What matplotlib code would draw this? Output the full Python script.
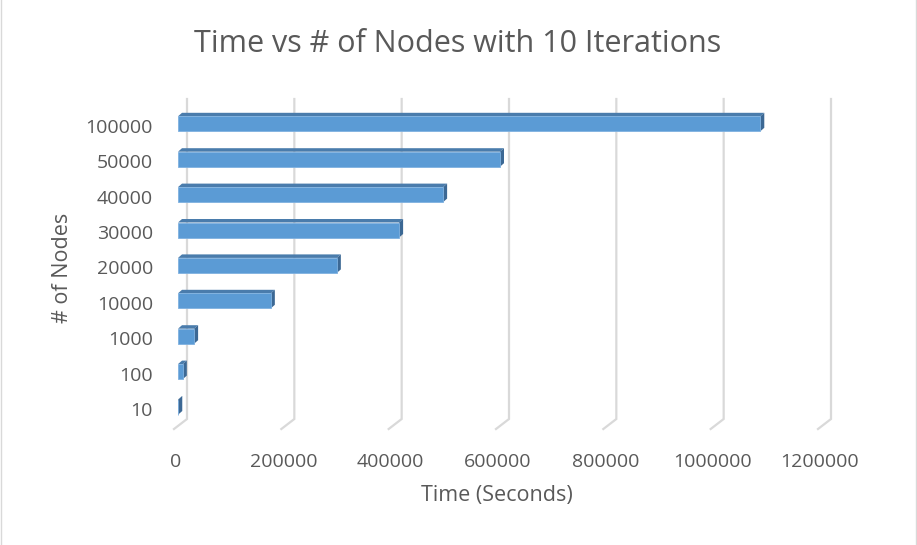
"""
Time vs # of Nodes -- Excel style 3D bar chart redrawn with matplotlib
"""

import matplotlib.pyplot as plt
from matplotlib.patches import Polygon, Rectangle

################################################################################
# DATA
nodes = ["10", "100", "1000", "10000", "20000", "30000", "40000", "50000", "100000"]
times = [500, 9000, 30000, 173000, 296000, 412000, 494000, 600000, 1085000]
x_ticks = [0, 200000, 400000, 600000, 800000, 1000000, 1200000]

title = "Time vs # of Nodes with 10 Iterations"
x_title = "Time (Seconds)"
y_title = "# of Nodes"

################################################################################
plt.rcParams["font.family"] = ["Open Sans", "DejaVu Sans"]
TXT = "#595959"
GRID = "#D9D9D9"
FRONT = "#5B9BD5"
TOP = "#4A7CAC"
SIDE = "#3C6894"

W, H = 917, 545
fig = plt.figure(figsize=(W / 100, H / 100), dpi=100)
ax = fig.add_axes([0, 0, 1, 1])
ax.axis("off")

# pixel -> data scale (front plane: 0 at px 178, 1200000 at px 822)
x0_px, x1_px = 178, 822
sx = 1200000 / (x1_px - x0_px)      # data units per pixel (x)
y0_px, step_px = 407, 35.4           # centre of first category, spacing
sy = 1 / step_px                     # data units per pixel (y)
ax.set_xlim(-x0_px * sx, (W - x0_px) * sx)
ax.set_ylim(-(H - y0_px) * sy, y0_px * sy)

# back wall gridlines + floor diagonals
back_dx = 9 * sx
grid_top = (y0_px - 99) * sy
grid_bot = (y0_px - 419) * sy
floor_front = (y0_px - 429) * sy
for v in x_ticks:
    ax.plot([v + back_dx, v + back_dx, v - 4 * sx], [grid_top, grid_bot, floor_front],
            color=GRID, lw=1.6, solid_joinstyle="miter", zorder=1)
    ax.text(v - 2 * sx, (y0_px - 462) * sy, f"{v}", ha="center", va="center",
            fontsize=14, color=TXT)

# bars (front face, top face, right side face)
bh = 15 * sy
ddx, ddy = 4 * sx, 3.5 * sy
for i, (lab, t) in enumerate(zip(nodes, times)):
    lo, hi = i - bh / 2, i + bh / 2
    ax.add_patch(Polygon([(0, hi), (t, hi), (t + ddx, hi + ddy), (ddx, hi + ddy)],
                         closed=True, facecolor=TOP, edgecolor="none", zorder=3))
    ax.add_patch(Polygon([(t, lo), (t, hi), (t + ddx, hi + ddy), (t + ddx, lo + ddy)],
                         closed=True, facecolor=SIDE, edgecolor="none", zorder=3))
    ax.add_patch(Rectangle((0, lo), t, bh, facecolor=FRONT, edgecolor="#7FB1E0",
                           lw=0.6, zorder=4))
    ax.text(-25 * sx, i - 4 * sy, lab, ha="right", va="center", fontsize=14, color=TXT)

# titles
fig.text(458 / W, 1 - 44 / H, title, ha="center", va="center", fontsize=22, color=TXT)
fig.text(497 / W, 1 - 496 / H, x_title, ha="center", va="center", fontsize=15.5, color=TXT)
fig.text(62 / W, 1 - 268 / H, y_title, ha="center", va="center", rotation=90,
         fontsize=15.5, color=TXT)

# chart area border (left and right edges only)
for xb in (0.5, 915.5):
    fig.add_artist(plt.Line2D([xb / W, xb / W], [0, 1], color=GRID, lw=1,
                              transform=fig.transFigure))

fig.savefig("out.png", dpi=100)
